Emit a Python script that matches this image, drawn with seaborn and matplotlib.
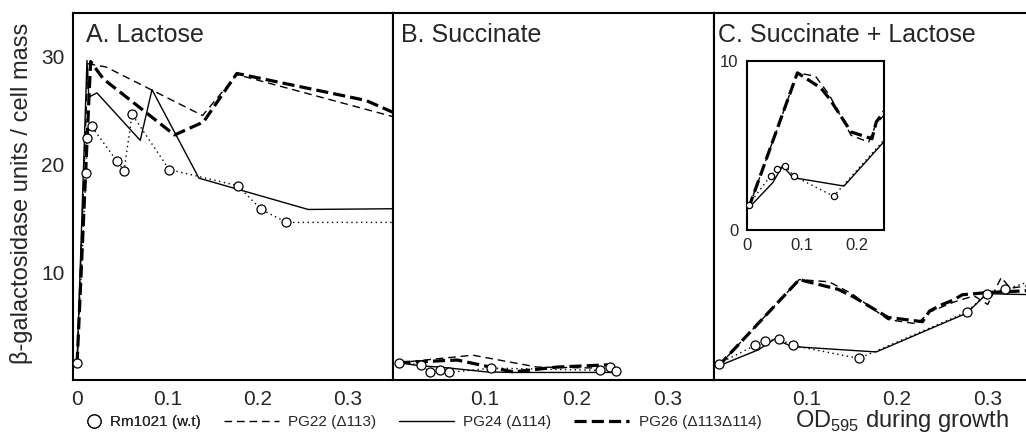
import numpy as np
import pandas as pd
import matplotlib.pyplot as plt
import seaborn as sns
from matplotlib.lines import Line2D
from matplotlib.ticker import MultipleLocator

sns.set_style('white')
plt.rcParams['font.family'] = ['Liberation Sans', 'DejaVu Sans']
plt.rcParams['mathtext.fontset'] = 'custom'
plt.rcParams['mathtext.rm'] = 'Liberation Sans'

# A. Lactose
a_rm_x = [0.0, 0.010, 0.011, 0.016, 0.044, 0.052, 0.061, 0.102, 0.178, 0.204, 0.232, 0.40]
a_rm_y = [1.6, 19.2, 22.4, 23.5, 20.3, 19.4, 24.6, 19.5, 18.0, 15.8, 14.6, 14.6]
a_pg22_x = [0.0, 0.012, 0.032, 0.139, 0.177, 0.35]
a_pg22_y = [1.5, 29.3, 29.0, 24.5, 28.3, 24.4]
a_pg24_x = [0.0, 0.011, 0.013, 0.022, 0.070, 0.083, 0.135, 0.256, 0.40]
a_pg24_y = [1.4, 29.6, 26.2, 26.6, 22.2, 26.9, 18.7, 15.8, 15.9]
a_pg26_x = [0.0, 0.015, 0.029, 0.108, 0.140, 0.177, 0.32, 0.35]
a_pg26_y = [1.5, 29.5, 27.9, 22.7, 23.9, 28.4, 25.9, 24.8]

# B. Succinate
b_rm_x = [0.006, 0.031, 0.040, 0.051, 0.061, 0.107, 0.226, 0.237, 0.243]
b_rm_y = [1.6, 1.4, 0.7, 0.9, 0.7, 1.1, 0.9, 1.2, 0.8]
b_pg22_x = [0.006, 0.087, 0.157, 0.229, 0.243]
b_pg22_y = [1.6, 2.3, 1.2, 1.1, 0.8]
b_pg24_x = [0.006, 0.031, 0.051, 0.102, 0.131, 0.229, 0.243]
b_pg24_y = [1.6, 1.3, 1.2, 0.75, 0.7, 0.7, 0.7]
b_pg26_x = [0.006, 0.070, 0.131, 0.179, 0.233, 0.243]
b_pg26_y = [1.6, 1.85, 0.75, 1.2, 1.4, 1.0]

# C. Succinate + Lactose
c_rm_x = [0.003, 0.043, 0.054, 0.070, 0.085, 0.158, 0.277, 0.299, 0.319, 0.35]
c_rm_y = [1.5, 3.2, 3.6, 3.8, 3.2, 2.0, 6.3, 8.0, 8.4, 9.2]
c_pg22_x = [0.003, 0.092, 0.125, 0.150, 0.190, 0.222, 0.236, 0.262, 0.285, 0.300, 0.315, 0.325, 0.35]
c_pg22_y = [1.3, 9.3, 9.1, 8.0, 5.6, 5.2, 6.3, 7.2, 7.8, 7.0, 9.5, 8.5, 8.8]
c_pg24_x = [0.003, 0.047, 0.065, 0.084, 0.177, 0.277, 0.299, 0.35]
c_pg24_y = [1.3, 2.8, 3.8, 3.1, 2.6, 6.2, 8.0, 7.9]
c_pg26_x = [0.003, 0.092, 0.135, 0.152, 0.190, 0.228, 0.236, 0.250, 0.262, 0.272, 0.300, 0.35]
c_pg26_y = [1.3, 9.3, 8.4, 7.7, 5.8, 5.4, 6.4, 7.0, 7.4, 7.9, 8.1, 8.3]

legend_labels = ['Rm1021 (w.t)', 'PG22 (\u0394113)', 'PG24 (\u0394114)', 'PG26 (\u0394113\u0394114)']
titles = ['A. Lactose', 'B. Succinate', 'C. Succinate + Lactose']

styles = {
    'pg22': dict(color='k', lw=1.0, linestyle=(0, (5.5, 3.5))),
    'pg24': dict(color='k', lw=1.0, linestyle='-'),
    'pg26': dict(color='k', lw=2.3, linestyle=(0, (3.8, 1.6))),
    'rm': dict(color='k', lw=1.0, linestyle=(0, (1, 2.5)), marker='o',
               markerfacecolor='white', markeredgecolor='k', markeredgewidth=0.9),
}


def draw(ax, series, msize):
    for key in ['pg22', 'pg24', 'pg26', 'rm']:
        x, y = series[key]
        kw = dict(styles[key])
        if key == 'rm':
            kw['markersize'] = msize
        sns.lineplot(x=x, y=y, ax=ax, sort=False, estimator=None, zorder=3 if key == 'rm' else 2, **kw)
    ax.set_xlabel('')
    ax.set_ylabel('')


fig = plt.figure(figsize=(10.26, 4.36), dpi=100)
W, H = 1026, 436
axA = fig.add_axes([73 / W, 56 / H, 320 / W, 367 / H])
axB = fig.add_axes([393 / W, 56 / H, 321 / W, 367 / H])
axC = fig.add_axes([714 / W, 56 / H, 319 / W, 367 / H])

draw(axA, {'rm': (a_rm_x, a_rm_y), 'pg22': (a_pg22_x, a_pg22_y),
           'pg24': (a_pg24_x, a_pg24_y), 'pg26': (a_pg26_x, a_pg26_y)}, 6.5)
draw(axB, {'rm': (b_rm_x, b_rm_y), 'pg22': (b_pg22_x, b_pg22_y),
           'pg24': (b_pg24_x, b_pg24_y), 'pg26': (b_pg26_x, b_pg26_y)}, 6.5)
draw(axC, {'rm': (c_rm_x, c_rm_y), 'pg22': (c_pg22_x, c_pg22_y),
           'pg24': (c_pg24_x, c_pg24_y), 'pg26': (c_pg26_x, c_pg26_y)}, 6.5)

axA.set_xlim(-0.0045, 0.35)
axB.set_xlim(0, 0.35)
axC.set_xlim(-0.002, 0.35)

for ax, t in zip([axA, axB, axC], titles):
    ax.set_ylim(0, 34)
    for s in ax.spines.values():
        s.set_linewidth(1.5)
        s.set_color('k')
    ax.tick_params(axis='x', direction='in', length=7, width=1.2, labelsize=15, pad=7)
    ax.text(0.04 if ax is axA else (0.025 if ax is axB else 0.013), 0.921, t,
            transform=ax.transAxes, fontsize=18, va='baseline', ha='left')

axA.set_xticks([0, 0.1, 0.2, 0.3])
axA.set_xticklabels(['0', '0.1', '0.2', '0.3'])
axA.set_yticks([10, 20, 30])
axA.yaxis.set_minor_locator(MultipleLocator(2))
axA.tick_params(axis='y', which='major', direction='in', length=7, width=1.2, labelsize=15, pad=6)
axA.tick_params(axis='y', which='minor', direction='in', length=3.5, width=1.0)

for ax in [axB, axC]:
    ax.set_xticks([0.1, 0.2, 0.3])
    ax.set_xticklabels(['0.1', '0.2', '0.3'])
    ax.set_yticks([])

# inset in panel C
axI = fig.add_axes([747 / W, 206 / H, 137 / W, 169 / H])
axI.set_facecolor('white')
draw(axI, {'rm': (c_rm_x, c_rm_y), 'pg22': (c_pg22_x, c_pg22_y),
           'pg24': (c_pg24_x, c_pg24_y), 'pg26': (c_pg26_x, c_pg26_y)}, 4.5)
axI.set_xlim(0, 0.25)
axI.set_ylim(0, 10)
axI.set_xticks([0, 0.1, 0.2])
axI.set_xticklabels(['0', '0.1', '0.2'])
axI.set_yticks([0, 2, 4, 6, 8, 10])
axI.set_yticklabels(['0', '', '', '', '', '10'])
axI.xaxis.set_minor_locator(MultipleLocator(0.1 / 6))
axI.yaxis.set_minor_locator(MultipleLocator(0.5))
axI.tick_params(which='major', direction='in', length=5, width=1.0, labelsize=12, pad=6)
axI.tick_params(which='minor', direction='in', length=2.5, width=0.8)
for s in axI.spines.values():
    s.set_linewidth(1.5)
    s.set_color('k')

fig.text(22 / W, 0.557, '\u03b2-galactosidase units / cell mass', rotation=90,
         fontsize=17, ha='center', va='center')
fig.text(795 / W, 9 / H, r'OD$_{595}$ during growth', fontsize=17, ha='left', va='baseline')

h_rm = Line2D([], [], linestyle='none', marker='o', markersize=9.5,
              markerfacecolor='white', markeredgecolor='k', markeredgewidth=0.9)
h22 = Line2D([], [], **styles['pg22'])
h24 = Line2D([], [], **styles['pg24'])
h26 = Line2D([], [], **styles['pg26'])
leg1 = fig.legend([h_rm], legend_labels[:1], loc='center left', bbox_to_anchor=(84 / W, 14 / H),
                  frameon=False, fontsize=11, handlelength=1.3, handletextpad=0.4,
                  borderaxespad=0, borderpad=0)
fig.legend([h22, h24, h26], legend_labels[1:], loc='center left', bbox_to_anchor=(224 / W, 14 / H),
           ncol=3, frameon=False, fontsize=11, handlelength=3.6, handletextpad=0.6,
           columnspacing=1.5, borderaxespad=0, borderpad=0)
fig.add_artist(leg1)

fig.savefig('out.png', dpi=100)
